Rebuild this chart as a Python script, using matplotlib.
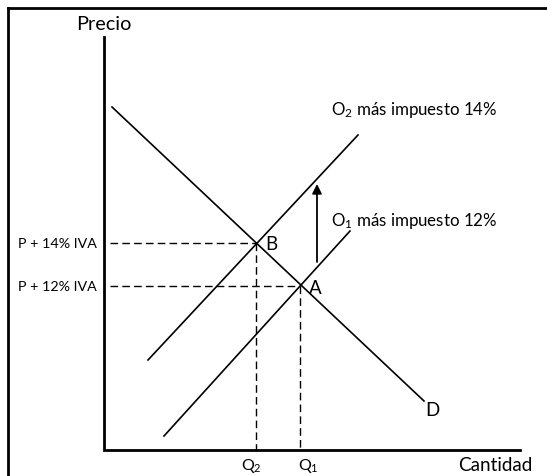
import matplotlib
matplotlib.use("Agg")
import matplotlib.pyplot as plt

plt.rcParams['font.family'] = ['Lato', 'DejaVu Sans']
plt.rcParams['mathtext.fontset'] = 'custom'
plt.rcParams['mathtext.rm'] = 'Lato'
plt.rcParams['mathtext.it'] = 'Lato'

# curves (origin at axes corner, units ~ pixels)
demand_x = [8, 320]
demand_y = [343, 49]
o1_x = [60, 246]
o1_y = [14, 219]
o2_x = [44, 254]
o2_y = [90, 315]

# equilibria
point_names = ['B', 'A']
point_q = [152, 196]
point_p = [207, 164]
price_labels = ['P + 14% IVA', 'P + 12% IVA']
qty_labels = ['Q$_2$', 'Q$_1$']
qty_label_x = [147, 204]

# shift arrow
arrow_x = 213
arrow_y = [188, 266]

fig = plt.figure(figsize=(5.47, 4.77), dpi=100)
ax = fig.add_axes([0, 0, 1, 1])
ax.set_xlim(-104, 443)
ax.set_ylim(-26, 451)
ax.axis('off')

# outer frame (cropped)
ax.plot([-96, -96], [-26, 442], color='black', lw=2)
ax.plot([-96, 443], [442, 442], color='black', lw=2)

# axes
ax.plot([0, 0, 416], [413, 0, 0], color='black', lw=2, solid_joinstyle='miter')
ax.text(0, 427, 'Precio', fontsize=14.3, ha='center', va='center')
ax.text(428, -15, 'Cantidad', fontsize=13.6, ha='right', va='center')

ax.plot(demand_x, demand_y, color='black', lw=1.2)
ax.plot(o1_x, o1_y, color='black', lw=1.2)
ax.plot(o2_x, o2_y, color='black', lw=1.2)

dash = (0, (5.5, 3))
for name, q, p, pl, ql, qx in zip(point_names, point_q, point_p, price_labels,
                                  qty_labels, qty_label_x):
    ax.plot([6, q], [p, p], color='black', lw=1, linestyle=dash)
    ax.plot([q, q], [p, 0], color='black', lw=1, linestyle=dash)
    ax.text(q + 9, p - 1, name, fontsize=13.5, ha='left', va='center')
    ax.text(-7, p, pl, fontsize=10.3, ha='right', va='center')
    ax.text(qx, -15, ql, fontsize=11.5, ha='center', va='center')

ax.text(328, 40, 'D', fontsize=13.5, ha='center', va='center')
ax.text(227, 341, 'O$_2$ más impuesto 14%', fontsize=12.2, ha='left', va='center')
ax.text(227, 230, 'O$_1$ más impuesto 12%', fontsize=12.2, ha='left', va='center')

ax.annotate('', xy=(arrow_x, arrow_y[1]), xytext=(arrow_x, arrow_y[0]),
            arrowprops=dict(arrowstyle='-|>', color='black', lw=1.3,
                            mutation_scale=14, shrinkA=0, shrinkB=0))

fig.savefig('out.png', dpi=100)
